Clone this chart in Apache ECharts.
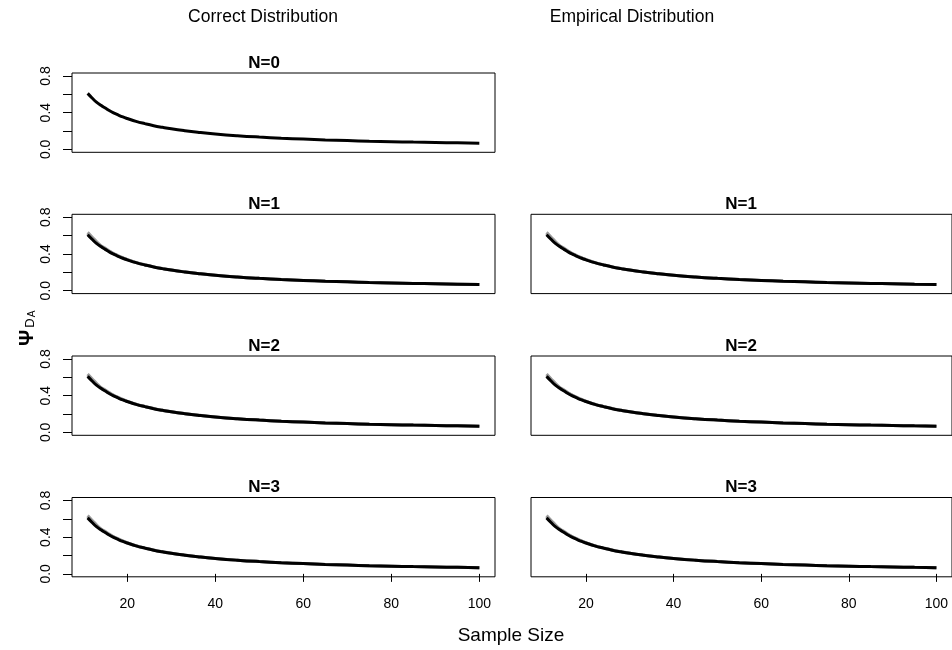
<!DOCTYPE html>
<html>
<head>
<meta charset="utf-8">
<script src="https://cdn.jsdelivr.net/npm/echarts@6/dist/echarts.min.js"></script>
<style>html,body{margin:0;padding:0;background:#fff;}#c{width:952px;height:650px;}</style>
</head>
<body>
<div id="c"></div>
<script>
// ---- data ----
var sampleSizes = [11,12,13,14,15,16,17,18,19,20,22,24,26,28,30,33,36,40,45,50,55,60,65,70,75,80,85,90,95,100];
var psiMean     = [0.61,0.56,0.515,0.48,0.45,0.42,0.395,0.373,0.353,0.336,0.305,0.28,0.258,0.24,0.224,0.204,0.187,0.168,0.149,0.134,0.122,0.112,0.103,0.096,0.089,0.084,0.079,0.075,0.071,0.067];
var psiGreyA    = [0.635,0.585,0.535,0.49,0.462,0.43,0.402,0.38,0.358,0.34,0.308,0.282,0.259,0.241,0.225,0.205,0.188,0.168,0.149,0.134,0.122,0.112,0.103,0.096,0.089,0.084,0.079,0.075,0.071,0.067];
var psiGreyB    = [0.625,0.57,0.525,0.487,0.455,0.425,0.4,0.377,0.356,0.338,0.306,0.281,0.259,0.24,0.224,0.204,0.187,0.168,0.149,0.134,0.122,0.112,0.103,0.096,0.089,0.084,0.079,0.075,0.071,0.067];
var xTicks = [20,40,60,80,100];
var yTicks = [0,0.2,0.4,0.6,0.8];
var yTickLabels = [0,0.4,0.8];
var panelTitles = ["N=0","N=1","N=2","N=3"];
var columnTitles = ["Correct Distribution","Empirical Distribution"];

var FONT = "'Liberation Sans', Arial, Helvetica, sans-serif";
var chart = echarts.init(document.getElementById('c'));

function pairs(vals){ return sampleSizes.map(function(n,i){ return [n, vals[i]]; }); }

var colLeft = [72, 531];
var rowTop = [73, 214.3, 356, 497.5];
var H = 79.3, W = 423;

// panels: [row, col]
var panels = [[0,0],[1,0],[1,1],[2,0],[2,1],[3,0],[3,1]];
var grids = [], xAxes = [], yAxes = [], series = [];
panels.forEach(function(p, i){
  var r = p[0], c = p[1];
  grids.push({left: colLeft[c], top: rowTop[r], width: W, height: H, show: true,
    borderColor: '#000', borderWidth: 1, backgroundColor: 'transparent', containLabel: false});
  var bottom = (r === 3);
  xAxes.push({type: 'value', gridIndex: i, min: 7.44, max: 103.56,
    axisLine: {show: false}, splitLine: {show: false},
    axisTick: {show: bottom, customValues: xTicks, length: 8, inside: false, lineStyle: {color: '#000', width: 1}},
    axisLabel: {show: bottom, customValues: xTicks, margin: 20, color: '#000', fontSize: 14, fontFamily: FONT}
  });
  var left = (c === 0);
  yAxes.push({type: 'value', gridIndex: i, min: -0.032, max: 0.832,
    axisLine: {show: false}, splitLine: {show: false},
    axisTick: {show: left, customValues: yTicks, length: 9, lineStyle: {color: '#000', width: 1}},
    axisLabel: {show: left, customValues: yTickLabels, rotate: 90, margin: 19, color: '#000', fontSize: 14, fontFamily: FONT,
      formatter: function(v){ return Number(v).toFixed(1); }}
  });
  if (r > 0) {
    [psiGreyA, psiGreyB].forEach(function(g){
      series.push({type: 'line', xAxisIndex: i, yAxisIndex: i, data: pairs(g), showSymbol: false, smooth: true,
        silent: true, lineStyle: {color: '#9a9a9a', width: 3}, z: 1});
    });
  }
  series.push({type: 'line', xAxisIndex: i, yAxisIndex: i, data: pairs(psiMean), showSymbol: false, smooth: true,
    silent: true, lineStyle: {color: '#000', width: 3}, z: 3});
});

var graphics = [];
function txt(s, x, y, size, weight, rot){
  graphics.push({type: 'text', x: x, y: y, rotation: rot || 0, silent: true,
    style: {text: s, fill: '#000', font: (weight || 'normal') + ' ' + size + 'px ' + FONT,
      textAlign: 'center', textVerticalAlign: 'middle'}});
}
txt(columnTitles[0], 263, 17, 17.5);
txt(columnTitles[1], 632, 17, 17.5);
var titleY = [63, 204, 346, 487];
for (var r = 0; r < 4; r++) {
  txt(panelTitles[r], 264, titleY[r], 17, 'bold');
  if (r > 0) txt(panelTitles[r], 741, titleY[r], 17, 'bold');
}
txt('Sample Size', 511, 636, 19);
txt('\u03A8', 27, 338, 20, 'bold', Math.PI/2);
txt('D', 30, 323, 13, 'normal', Math.PI/2);
txt('A', 32, 314, 10, 'normal', Math.PI/2);

chart.setOption({
  animation: false,
  backgroundColor: '#fff',
  grid: grids, xAxis: xAxes, yAxis: yAxes, series: series,
  graphic: graphics
});
</script>
</body>
</html>
